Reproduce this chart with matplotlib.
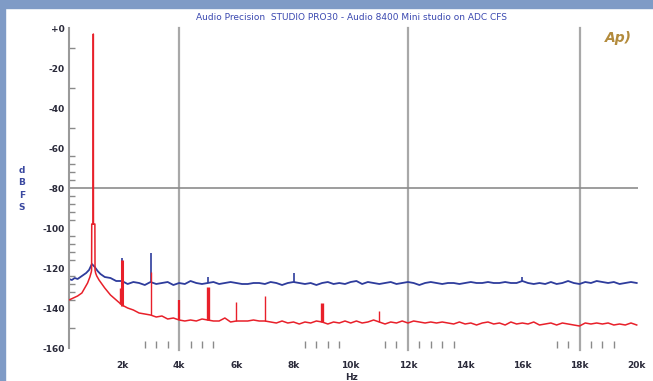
import numpy as np
import matplotlib.pyplot as plt
from matplotlib.patches import Rectangle

# ---------------- data (Hz, dBFS) ----------------
red_low_freq = [150, 300, 450, 600, 700, 800, 880, 930, 940, 945, 995, 1000, 1005, 1055, 1060, 1080, 1120, 1200, 1300]
red_low_db = [-136.0, -135.0, -134.0, -132.5, -130.0, -127.5, -124.5, -122.0, -121.0, -98.0, -98.0, -3.0, -98.0, -98.0,
              -121.0, -122.5, -124.0, -126.0, -128.0]

blue_low_freq = [150, 250, 350, 450, 550, 650, 750, 850, 950, 1050, 1150, 1250]
blue_low_db = [-125.5, -126.0, -125.0, -125.5, -124.5, -123.5, -122.5, -121.0, -118.0, -119.5, -121.5, -123.0]

grid_freq = np.arange(1400, 20001, 200)

red_floor_db = [
    -130.0, -133.5, -136.0, -138.5, -140.0, -141.0, -142.5, -143.0, -143.5, -144.5,
    -144.0, -145.5, -145.0, -146.0, -146.5, -146.0, -146.5, -145.5, -146.0, -146.5,
    -146.5, -145.0, -147.0, -146.5, -146.5, -146.5, -146.0, -146.5, -146.5, -147.0,
    -147.5, -146.5, -147.5, -147.0, -148.0, -147.0, -147.5, -146.5, -147.0, -148.0,
    -147.0, -147.5, -146.5, -147.5, -146.5, -147.5, -147.0, -146.0, -147.0, -148.0,
    -147.0, -147.5, -146.5, -147.5, -146.5, -147.0, -147.5, -147.0, -147.5, -147.0,
    -147.5, -148.0, -147.0, -148.0, -147.5, -148.5, -147.5, -147.0, -148.0, -147.5,
    -148.5, -147.0, -148.0, -147.5, -148.0, -147.0, -148.5, -148.0, -147.5, -148.5,
    -147.5, -148.0, -148.5, -149.0, -147.5, -148.0, -147.5, -148.0, -147.5, -148.5,
    -148.0, -148.5, -147.5, -148.5]

blue_floor_db = [
    -124.5, -125.0, -126.5, -126.5, -128.0, -127.0, -127.5, -128.5, -127.0, -128.0,
    -127.5, -127.0, -128.5, -127.5, -128.0, -126.5, -127.5, -128.0, -127.5, -127.0,
    -128.0, -127.5, -127.0, -127.5, -128.0, -128.0, -127.5, -127.5, -128.0, -127.0,
    -127.5, -128.5, -127.5, -127.0, -127.5, -128.0, -127.5, -128.5, -127.5, -127.0,
    -128.0, -127.5, -128.0, -127.0, -126.5, -128.0, -127.0, -127.5, -128.0, -127.5,
    -127.0, -128.0, -127.5, -127.0, -127.5, -128.5, -127.5, -127.0, -127.5, -128.0,
    -127.5, -127.5, -128.0, -127.5, -127.0, -127.5, -127.5, -127.0, -127.5, -127.5,
    -127.0, -127.5, -127.5, -126.5, -127.5, -128.0, -127.5, -128.0, -127.0, -128.0,
    -127.5, -126.5, -127.5, -128.0, -127.0, -127.5, -126.5, -127.0, -127.5, -127.0,
    -128.0, -127.5, -127.0, -127.5]

# harmonic / spur lines
red_spike_freq = [1950, 2000, 3000, 4000, 5000, 6000, 7000, 9000, 11000]
red_spike_top = [-130.0, -116.0, -122.0, -136.0, -129.5, -137.0, -134.0, -137.5, -141.5]
red_spike_base = [-138.0, -139.0, -143.5, -146.0, -146.0, -146.5, -146.5, -147.0, -147.0]

blue_spike_freq = [2000, 3000, 5000, 8000, 16000]
blue_spike_top = [-115.0, -112.5, -124.5, -122.5, -124.5]
blue_spike_base = [-126.5, -127.0, -127.5, -127.0, -126.5]

x_ticks = [2000, 4000, 6000, 8000, 10000, 12000, 14000, 16000, 18000, 20000]
x_labels = ["2k", "4k", "6k", "8k", "10k", "12k", "14k", "16k", "18k", "20k"]
y_ticks = [0, -20, -40, -60, -80, -100, -120, -140, -160]
y_labels = ["+0", "-20", "-40", "-60", "-80", "-100", "-120", "-140", "-160"]

title = "Audio Precision  STUDIO PRO30 - Audio 8400 Mini studio on ADC CFS"

# ---------------- plot ----------------
RED = "#e8202a"
BLUE = "#2e3c9c"
GRID = "#a8a8a8"
TXT = "#2a2a3a"

fig = plt.figure(figsize=(6.53, 3.81), dpi=100)
fig.patch.set_facecolor("white")
fig.patches.append(Rectangle((0, 1 - 8 / 381), 1, 8 / 381, transform=fig.transFigure,
                             color="#7f9bc6", zorder=0))
fig.patches.append(Rectangle((0, 0), 5 / 653, 1, transform=fig.transFigure,
                             color="#7f9bc6", zorder=0))

ax = fig.add_axes([69 / 653, 33 / 381, 569 / 653, 320 / 381])
ax.set_xlim(150, 20045)
ax.set_ylim(-160, 0)

for s in ["top", "right", "bottom"]:
    ax.spines[s].set_visible(False)
ax.spines["left"].set_color("#9a9a9a")
ax.spines["left"].set_linewidth(1.5)

for gx in [4000, 12000, 18000]:
    ax.axvline(gx, ymin=-0.005, color=GRID, lw=1.6, zorder=1, clip_on=False)
ax.axhline(-80, color="#8c8c8c", lw=1.2, zorder=1)

red_f = list(red_low_freq) + list(grid_freq)
red_v = list(red_low_db) + list(red_floor_db)
blue_f = list(blue_low_freq) + list(grid_freq)
blue_v = list(blue_low_db) + list(blue_floor_db)

ax.plot(blue_f, blue_v, color=BLUE, lw=1.3, zorder=2)
ax.vlines(blue_spike_freq, blue_spike_base, blue_spike_top, color=BLUE, lw=1.2, zorder=2)

red_lw = [1.0, 2.2, 1.0, 1.6, 2.4, 1.0, 1.0, 2.4, 1.0]
ax.plot(red_f, red_v, color=RED, lw=1.1, zorder=3)
for f, t, b, w in zip(red_spike_freq, red_spike_top, red_spike_base, red_lw):
    ax.vlines(f, b, t, color=RED, lw=w, zorder=3)

ax.set_xticks(x_ticks)
ax.set_xticklabels(x_labels)
ax.set_yticks(y_ticks)
ax.set_yticklabels(y_labels)
ax.tick_params(axis="both", which="major", length=0, labelsize=6.5, labelcolor=TXT)
ax.tick_params(axis="x", pad=9)
ax.tick_params(axis="y", pad=3)
for lab in ax.get_xticklabels() + ax.get_yticklabels():
    lab.set_fontweight("bold")

x_minor = [2800, 3200, 3600, 4400, 4800, 5200, 8400, 8800, 9200, 9600,
           11200, 11600, 12400, 12800, 13200, 13600, 17200, 17600, 18400, 18800, 19200]
y_minor = [-10, -30, -50, -64, -68, -72, -76, -84, -88, -92, -96, -104, -108, -112, -116,
           -124, -128, -132, -136, -150]
ax.set_xticks(x_minor, minor=True)
ax.set_yticks(y_minor, minor=True)
ax.tick_params(axis="x", which="minor", direction="in", length=5, width=1, color="#8a8a8a", pad=0)
ax.tick_params(axis="y", which="minor", direction="in", length=4, width=1, color="#8a8a8a")

fig.text(352 / 653, 1 - 18 / 381, title, ha="center", va="center",
         fontsize=6.5, color="#3a48b0")
fig.text(352 / 653, 1 - 377 / 381, "Hz", ha="center", va="center",
         fontsize=6.5, fontweight="bold", color=TXT)
fig.text(22 / 653, 1 - 189 / 381, "d\nB\nF\nS", ha="center", va="center",
         fontsize=6.5, fontweight="bold", color="#3a48a0", linespacing=1.5)
fig.text(618 / 653, 1 - 38 / 381, "Ap)", ha="center", va="center",
         fontsize=10, fontweight="bold", fontstyle="italic", color="#b38b3c")

fig.savefig("out.png", dpi=100)
